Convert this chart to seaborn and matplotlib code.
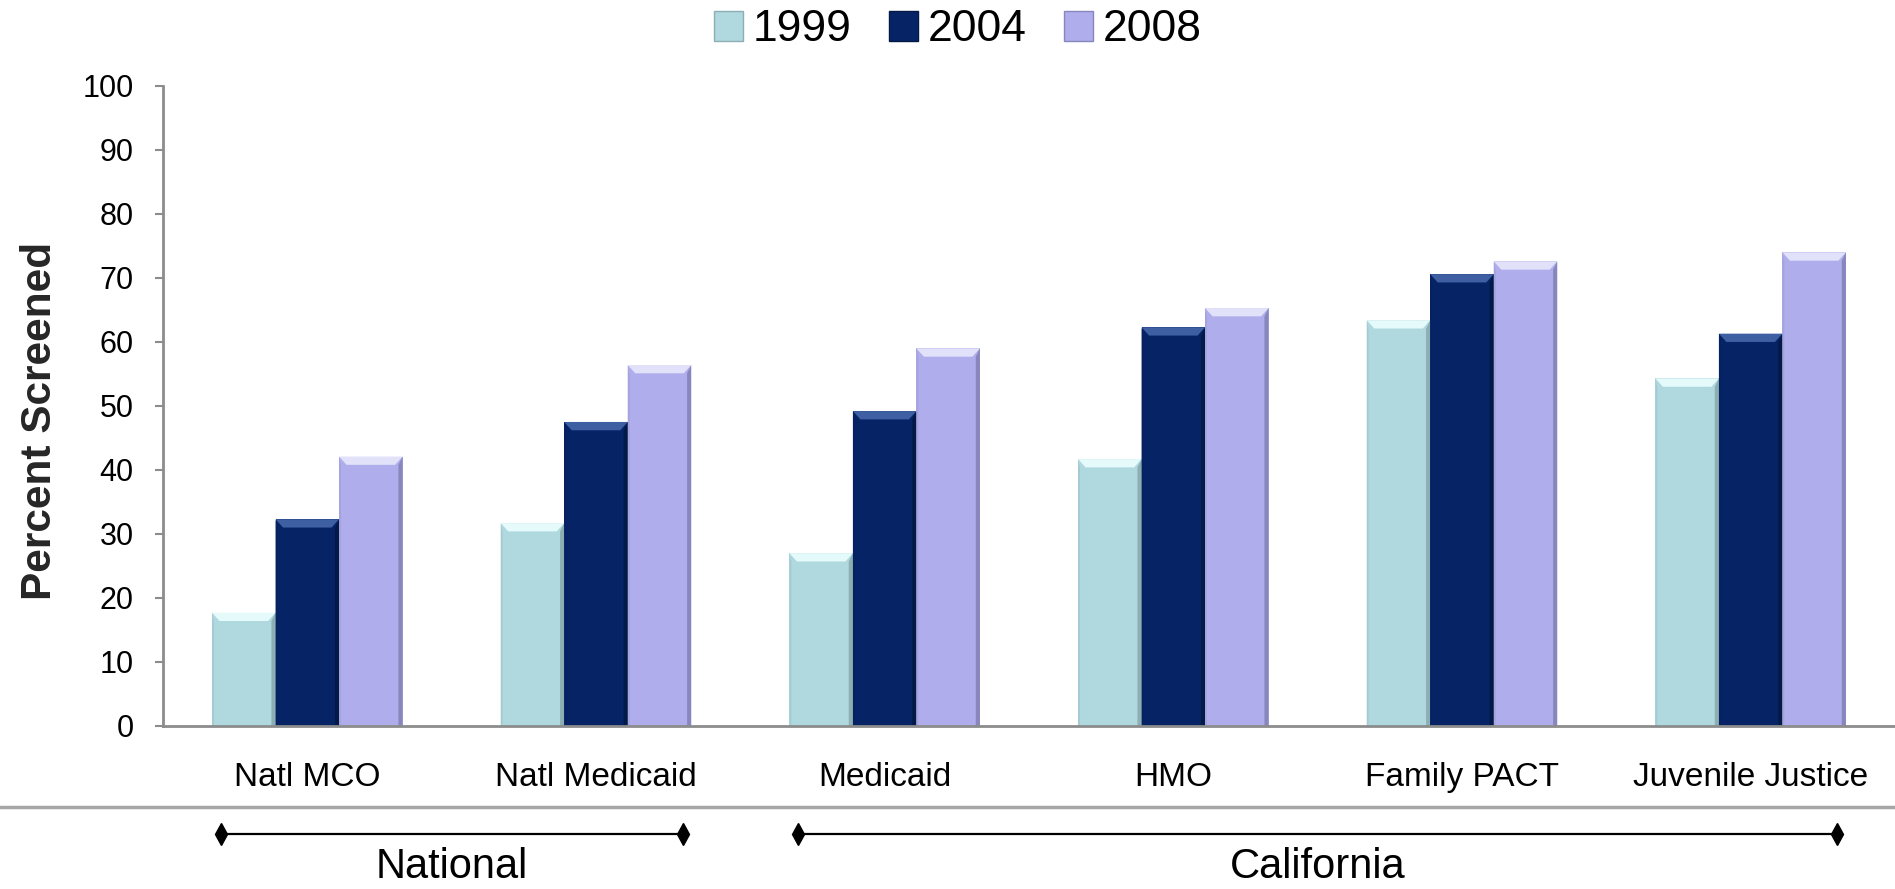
import numpy as np
import pandas as pd
import matplotlib
matplotlib.use("Agg")
import matplotlib.pyplot as plt
import seaborn as sns
from matplotlib.patches import Polygon, Patch
from matplotlib.transforms import blended_transform_factory
from matplotlib.colors import to_rgb

# --- data -------------------------------------------------------------
categories = ["Natl MCO", "Natl Medicaid", "Medicaid", "HMO",
              "Family PACT", "Juvenile Justice"]
years = ["1999", "2004", "2008"]
pct_1999 = [17.7, 31.7, 27.0, 41.7, 63.4, 54.3]
pct_2004 = [32.3, 47.5, 49.2, 62.3, 70.6, 61.3]
pct_2008 = [42.1, 56.4, 59.0, 65.3, 72.6, 74.0]
group_names = ["National", "California"]
group_members = [["Natl MCO", "Natl Medicaid"],
                 ["Medicaid", "HMO", "Family PACT", "Juvenile Justice"]]
y_ticks = [0, 10, 20, 30, 40, 50, 60, 70, 80, 90, 100]

colors = ["#B0D8DF", "#062366", "#AFADEB"]
top_colors = ["#E4FAFB", "#3F5FA3", "#E2E1FA"]
side_colors = ["#8DAEB3", "#031946", "#8886BC"]

df = pd.DataFrame({
    "program": categories * 3,
    "year": [y for y in years for _ in categories],
    "pct": pct_1999 + pct_2004 + pct_2008,
})

# --- style ------------------------------------------------------------
sns.set_style("white")
plt.rcParams["font.family"] = ["Liberation Sans", "DejaVu Sans"]
plt.rcParams["text.color"] = "black"
plt.rcParams["xtick.color"] = "black"
plt.rcParams["ytick.color"] = "black"
axis_gray = "#8C8C8C"

fig = plt.figure(figsize=(18.95, 8.89), dpi=100)
ax = fig.add_axes([0.086, 0.1834, 0.914, 0.7199])

sns.barplot(data=df, x="program", y="pct", hue="year", order=categories,
            hue_order=years, palette=colors, width=0.66, gap=0,
            saturation=1, linewidth=0, ax=ax, legend=False)


def mix(c, other, t):
    c = np.array(to_rgb(c))
    o = np.array(to_rgb(other))
    return tuple(c * (1 - t) + o * t)


# bevelled look on every bar, derived from the bar geometry
bev_y = 1.3
bev_x = 0.026
for color, top_col, side_col, container in zip(colors, top_colors,
                                               side_colors, ax.containers):
    left_col = mix(color, "black", 0.06)
    for rect in container:
        x, w, h = rect.get_x(), rect.get_width(), rect.get_height()
        ax.add_patch(Polygon([(x + w - bev_x * 0.55, 0), (x + w, 0), (x + w, h),
                              (x + w - bev_x * 0.55, h - bev_y)],
                             closed=True, facecolor=side_col, edgecolor="none",
                             zorder=3))
        ax.add_patch(Polygon([(x, 0), (x + bev_x * 0.25, 0),
                              (x + bev_x * 0.25, h - bev_y), (x, h)],
                             closed=True, facecolor=left_col, edgecolor="none",
                             zorder=3))
        ax.add_patch(Polygon([(x, h), (x + w, h), (x + w - bev_x, h - bev_y),
                              (x + bev_x, h - bev_y)],
                             closed=True, facecolor=top_col, edgecolor="none",
                             zorder=3))

# --- axes -------------------------------------------------------------
ax.set_xlim(-0.5, len(categories) - 0.5)
ax.set_ylim(0, 100)
ax.set_yticks(y_ticks)
ax.set_yticklabels([str(t) for t in y_ticks], fontsize=22)
ax.set_xticks(range(len(categories)))
ax.set_xticklabels(categories, fontsize=24)
ax.set_xticks(np.arange(-0.5, len(categories)), minor=True)
ax.tick_params(axis="x", which="major", length=0, pad=26)
ax.tick_params(axis="x", which="minor", length=6, width=1.5, color=axis_gray,
               direction="out")
ax.tick_params(axis="y", length=6, width=1.5, color=axis_gray, direction="out",
               pad=15, left=True)
for side in ("top", "right"):
    ax.spines[side].set_visible(False)
for side in ("left", "bottom"):
    ax.spines[side].set_color(axis_gray)
    ax.spines[side].set_linewidth(2)
    ax.spines[side].set_zorder(4)
ax.set_xlabel("")
ax.set_ylabel("Percent Screened", fontsize=30.5, fontweight="bold")
ax.yaxis.set_label_coords(-0.0595, 0.477)

# --- legend -----------------------------------------------------------
handles = [Patch(facecolor=c, edgecolor=s, linewidth=1)
           for c, s in zip(colors, side_colors)]
fig.legend(handles, years, loc="upper center", bbox_to_anchor=(0.5055, 0.992),
           ncol=3, frameon=False, fontsize=32, handlelength=0.65,
           handleheight=0.65, handletextpad=0.22, columnspacing=0.85,
           borderpad=0.05, borderaxespad=0)

# --- separator and group brackets ----------------------------------------
fig.add_artist(plt.Line2D([0, 1], [0.0922, 0.0922], transform=fig.transFigure,
                          color="#A6A6A6", linewidth=2.5))

trans = blended_transform_factory(ax.transData, fig.transFigure)
inset = 0.30
for name, members in zip(group_names, group_members):
    idx = [categories.index(m) for m in members]
    lo, hi = min(idx) - inset, max(idx) + inset
    ax.plot([lo, hi], [0.0619, 0.0619], transform=trans, color="black",
            linewidth=1.6, marker="d", markersize=11, clip_on=False)
    ax.text((min(idx) + max(idx)) / 2, 0.012, name, transform=trans,
            ha="center", va="baseline", fontsize=30)

fig.savefig("out.png", dpi=100)
